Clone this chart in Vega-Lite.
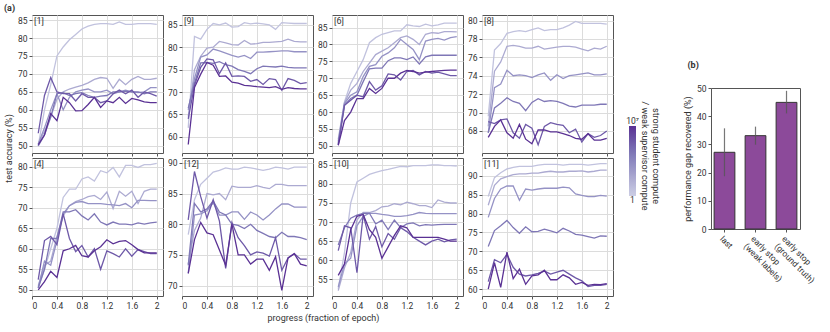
{
"$schema":"https://vega.github.io/schema/vega-lite/v6.json",
"padding":{"left":3,"top":3,"right":3,"bottom":3},
"title":{"text":"(a)","anchor":"start","fontSize":9,"fontWeight":"bold","offset":2,"frame":"bounds","dx":0},
"datasets":{
"p1":[
{"r":4,"x":0.1,"y":50},{"r":4,"x":0.2,"y":60},{"r":4,"x":0.3,"y":67},{"r":4,"x":0.4,"y":75},{"r":4,"x":0.5,"y":77.5},{"r":4,"x":0.6,"y":79.5},{"r":4,"x":0.7,"y":81},{"r":4,"x":0.8,"y":82.5},{"r":4,"x":0.9,"y":83.3},{"r":4,"x":1,"y":83.8},{"r":4,"x":1.1,"y":84},{"r":4,"x":1.2,"y":84},{"r":4,"x":1.3,"y":83.8},{"r":4,"x":1.4,"y":84.5},{"r":4,"x":1.5,"y":83.8},{"r":4,"x":1.6,"y":83.8},{"r":4,"x":1.7,"y":84},{"r":4,"x":1.8,"y":84},{"r":4,"x":1.9,"y":84},{"r":4,"x":2,"y":83.8},
{"r":60,"x":0.1,"y":50.5},{"r":60,"x":0.2,"y":54},{"r":60,"x":0.3,"y":58},{"r":60,"x":0.4,"y":63},{"r":60,"x":0.5,"y":65},{"r":60,"x":0.6,"y":65.8},{"r":60,"x":0.7,"y":66.3},{"r":60,"x":0.8,"y":66.8},{"r":60,"x":0.9,"y":67.5},{"r":60,"x":1,"y":68.5},{"r":60,"x":1.1,"y":69},{"r":60,"x":1.2,"y":68.8},{"r":60,"x":1.3,"y":66},{"r":60,"x":1.4,"y":68.5},{"r":60,"x":1.5,"y":67},{"r":60,"x":1.6,"y":68.5},{"r":60,"x":1.7,"y":69.3},{"r":60,"x":1.8,"y":68.5},{"r":60,"x":1.9,"y":68.5},{"r":60,"x":2,"y":68.8},
{"r":1000,"x":0.1,"y":50.5},{"r":1000,"x":0.2,"y":55},{"r":1000,"x":0.3,"y":60},{"r":1000,"x":0.4,"y":64.5},{"r":1000,"x":0.5,"y":60},{"r":1000,"x":0.6,"y":63.5},{"r":1000,"x":0.7,"y":65},{"r":1000,"x":0.8,"y":65.5},{"r":1000,"x":0.9,"y":65.8},{"r":1000,"x":1,"y":65},{"r":1000,"x":1.1,"y":65},{"r":1000,"x":1.2,"y":65.5},{"r":1000,"x":1.3,"y":64.5},{"r":1000,"x":1.4,"y":65},{"r":1000,"x":1.5,"y":65.5},{"r":1000,"x":1.6,"y":65},{"r":1000,"x":1.7,"y":64.8},{"r":1000,"x":1.8,"y":65},{"r":1000,"x":1.9,"y":66.2},{"r":1000,"x":2,"y":66.2},
{"r":20000,"x":0.1,"y":50},{"r":20000,"x":0.2,"y":53},{"r":20000,"x":0.3,"y":58},{"r":20000,"x":0.4,"y":64.5},{"r":20000,"x":0.5,"y":64.8},{"r":20000,"x":0.6,"y":64},{"r":20000,"x":0.7,"y":64.5},{"r":20000,"x":0.8,"y":64.8},{"r":20000,"x":0.9,"y":64},{"r":20000,"x":1,"y":63.5},{"r":20000,"x":1.1,"y":63.8},{"r":20000,"x":1.2,"y":64},{"r":20000,"x":1.3,"y":65},{"r":20000,"x":1.4,"y":65},{"r":20000,"x":1.5,"y":65.2},{"r":20000,"x":1.6,"y":65},{"r":20000,"x":1.7,"y":65},{"r":20000,"x":1.8,"y":64.5},{"r":20000,"x":1.9,"y":65},{"r":20000,"x":2,"y":65},
{"r":300000,"x":0.1,"y":53.5},{"r":300000,"x":0.2,"y":64},{"r":300000,"x":0.3,"y":69},{"r":300000,"x":0.4,"y":65},{"r":300000,"x":0.5,"y":64.5},{"r":300000,"x":0.6,"y":64.5},{"r":300000,"x":0.7,"y":62.5},{"r":300000,"x":0.8,"y":64.5},{"r":300000,"x":0.9,"y":63.5},{"r":300000,"x":1,"y":63.5},{"r":300000,"x":1.1,"y":62},{"r":300000,"x":1.2,"y":62.5},{"r":300000,"x":1.3,"y":64.5},{"r":300000,"x":1.4,"y":65.5},{"r":300000,"x":1.5,"y":64.5},{"r":300000,"x":1.6,"y":65.5},{"r":300000,"x":1.7,"y":63.5},{"r":300000,"x":1.8,"y":65},{"r":300000,"x":1.9,"y":64.5},{"r":300000,"x":2,"y":63.8},
{"r":10000000,"x":0.1,"y":50.3},{"r":10000000,"x":0.2,"y":53},{"r":10000000,"x":0.3,"y":59},{"r":10000000,"x":0.4,"y":57},{"r":10000000,"x":0.5,"y":63.5},{"r":10000000,"x":0.6,"y":62},{"r":10000000,"x":0.7,"y":59.7},{"r":10000000,"x":0.8,"y":59.8},{"r":10000000,"x":0.9,"y":61.5},{"r":10000000,"x":1,"y":63.5},{"r":10000000,"x":1.1,"y":60.7},{"r":10000000,"x":1.2,"y":62.5},{"r":10000000,"x":1.3,"y":62},{"r":10000000,"x":1.4,"y":63.5},{"r":10000000,"x":1.5,"y":61.8},{"r":10000000,"x":1.6,"y":63.2},{"r":10000000,"x":1.7,"y":62.8},{"r":10000000,"x":1.8,"y":62.2},{"r":10000000,"x":1.9,"y":62},{"r":10000000,"x":2,"y":62}
],
"p9":[
{"r":4,"x":0.1,"y":62},{"r":4,"x":0.2,"y":82.4},{"r":4,"x":0.3,"y":81.8},{"r":4,"x":0.4,"y":84},{"r":4,"x":0.5,"y":85.3},{"r":4,"x":0.6,"y":85},{"r":4,"x":0.7,"y":85.4},{"r":4,"x":0.8,"y":84.5},{"r":4,"x":0.9,"y":84.6},{"r":4,"x":1,"y":85.5},{"r":4,"x":1.1,"y":85.2},{"r":4,"x":1.2,"y":85.4},{"r":4,"x":1.3,"y":85.2},{"r":4,"x":1.4,"y":85},{"r":4,"x":1.5,"y":84},{"r":4,"x":1.6,"y":85.5},{"r":4,"x":1.7,"y":85.4},{"r":4,"x":1.8,"y":85.3},{"r":4,"x":1.9,"y":85.3},{"r":4,"x":2,"y":85.3},
{"r":60,"x":0.1,"y":64.5},{"r":60,"x":0.2,"y":75},{"r":60,"x":0.3,"y":78},{"r":60,"x":0.4,"y":79.8},{"r":60,"x":0.5,"y":80},{"r":60,"x":0.6,"y":81.3},{"r":60,"x":0.7,"y":81},{"r":60,"x":0.8,"y":80.6},{"r":60,"x":0.9,"y":80.5},{"r":60,"x":1,"y":81.5},{"r":60,"x":1.1,"y":80.7},{"r":60,"x":1.2,"y":80.8},{"r":60,"x":1.3,"y":81.1},{"r":60,"x":1.4,"y":81.1},{"r":60,"x":1.5,"y":81.2},{"r":60,"x":1.6,"y":81.3},{"r":60,"x":1.7,"y":81.8},{"r":60,"x":1.8,"y":81.3},{"r":60,"x":1.9,"y":81.2},{"r":60,"x":2,"y":81.2},
{"r":1000,"x":0.1,"y":66},{"r":1000,"x":0.2,"y":73},{"r":1000,"x":0.3,"y":77.8},{"r":1000,"x":0.4,"y":78.3},{"r":1000,"x":0.5,"y":79.6},{"r":1000,"x":0.6,"y":79.2},{"r":1000,"x":0.7,"y":78.7},{"r":1000,"x":0.8,"y":78.2},{"r":1000,"x":0.9,"y":77.8},{"r":1000,"x":1,"y":78.2},{"r":1000,"x":1.1,"y":77.5},{"r":1000,"x":1.2,"y":78.9},{"r":1000,"x":1.3,"y":78.9},{"r":1000,"x":1.4,"y":79},{"r":1000,"x":1.5,"y":79.1},{"r":1000,"x":1.6,"y":79.2},{"r":1000,"x":1.7,"y":79.2},{"r":1000,"x":1.8,"y":79},{"r":1000,"x":1.9,"y":79},{"r":1000,"x":2,"y":79},
{"r":20000,"x":0.1,"y":66.4},{"r":20000,"x":0.2,"y":72},{"r":20000,"x":0.3,"y":76.5},{"r":20000,"x":0.4,"y":76.6},{"r":20000,"x":0.5,"y":76.4},{"r":20000,"x":0.6,"y":76.8},{"r":20000,"x":0.7,"y":76.1},{"r":20000,"x":0.8,"y":75.8},{"r":20000,"x":0.9,"y":75},{"r":20000,"x":1,"y":74.6},{"r":20000,"x":1.1,"y":74.1},{"r":20000,"x":1.2,"y":75.2},{"r":20000,"x":1.3,"y":75.8},{"r":20000,"x":1.4,"y":75.7},{"r":20000,"x":1.5,"y":75.6},{"r":20000,"x":1.6,"y":75.8},{"r":20000,"x":1.7,"y":75.5},{"r":20000,"x":1.8,"y":75.4},{"r":20000,"x":1.9,"y":75.4},{"r":20000,"x":2,"y":75.4},
{"r":300000,"x":0.1,"y":64},{"r":300000,"x":0.2,"y":71.5},{"r":300000,"x":0.3,"y":75.5},{"r":300000,"x":0.4,"y":77.4},{"r":300000,"x":0.5,"y":77.2},{"r":300000,"x":0.6,"y":74.1},{"r":300000,"x":0.7,"y":76.5},{"r":300000,"x":0.8,"y":73.5},{"r":300000,"x":0.9,"y":73.6},{"r":300000,"x":1,"y":73.5},{"r":300000,"x":1.1,"y":72.4},{"r":300000,"x":1.2,"y":72.8},{"r":300000,"x":1.3,"y":71.7},{"r":300000,"x":1.4,"y":73},{"r":300000,"x":1.5,"y":72.8},{"r":300000,"x":1.6,"y":70.4},{"r":300000,"x":1.7,"y":73},{"r":300000,"x":1.8,"y":72.6},{"r":300000,"x":1.9,"y":71.9},{"r":300000,"x":2,"y":72.1},
{"r":10000000,"x":0.1,"y":58.3},{"r":10000000,"x":0.2,"y":71},{"r":10000000,"x":0.3,"y":74},{"r":10000000,"x":0.4,"y":76.6},{"r":10000000,"x":0.5,"y":76},{"r":10000000,"x":0.6,"y":73.5},{"r":10000000,"x":0.7,"y":73.6},{"r":10000000,"x":0.8,"y":72.2},{"r":10000000,"x":0.9,"y":72},{"r":10000000,"x":1,"y":71.5},{"r":10000000,"x":1.1,"y":71.4},{"r":10000000,"x":1.2,"y":71.2},{"r":10000000,"x":1.3,"y":71.1},{"r":10000000,"x":1.4,"y":71},{"r":10000000,"x":1.5,"y":71.2},{"r":10000000,"x":1.6,"y":70.6},{"r":10000000,"x":1.7,"y":71},{"r":10000000,"x":1.8,"y":70.8},{"r":10000000,"x":1.9,"y":70.7},{"r":10000000,"x":2,"y":70.7}
],
"p6":[
{"r":4,"x":0.1,"y":52},{"r":4,"x":0.2,"y":63},{"r":4,"x":0.3,"y":68.5},{"r":4,"x":0.4,"y":72},{"r":4,"x":0.5,"y":75.5},{"r":4,"x":0.6,"y":80.5},{"r":4,"x":0.7,"y":82},{"r":4,"x":0.8,"y":83},{"r":4,"x":0.9,"y":83.5},{"r":4,"x":1,"y":84},{"r":4,"x":1.1,"y":84},{"r":4,"x":1.2,"y":85.8},{"r":4,"x":1.3,"y":85.5},{"r":4,"x":1.4,"y":85.3},{"r":4,"x":1.5,"y":86},{"r":4,"x":1.6,"y":85.5},{"r":4,"x":1.7,"y":85.8},{"r":4,"x":1.8,"y":86.3},{"r":4,"x":1.9,"y":86.3},{"r":4,"x":2,"y":86.3},
{"r":60,"x":0.1,"y":51.5},{"r":60,"x":0.2,"y":62.8},{"r":60,"x":0.3,"y":66.5},{"r":60,"x":0.4,"y":68.5},{"r":60,"x":0.5,"y":72},{"r":60,"x":0.6,"y":74.5},{"r":60,"x":0.7,"y":77},{"r":60,"x":0.8,"y":78},{"r":60,"x":0.9,"y":79},{"r":60,"x":1,"y":80.5},{"r":60,"x":1.1,"y":82},{"r":60,"x":1.2,"y":82.5},{"r":60,"x":1.3,"y":81.5},{"r":60,"x":1.4,"y":80},{"r":60,"x":1.5,"y":83},{"r":60,"x":1.6,"y":83.5},{"r":60,"x":1.7,"y":83.3},{"r":60,"x":1.8,"y":83.8},{"r":60,"x":1.9,"y":83.8},{"r":60,"x":2,"y":83.7},
{"r":1000,"x":0.1,"y":51},{"r":1000,"x":0.2,"y":62.5},{"r":1000,"x":0.3,"y":65},{"r":1000,"x":0.4,"y":66},{"r":1000,"x":0.5,"y":70.5},{"r":1000,"x":0.6,"y":73.5},{"r":1000,"x":0.7,"y":74},{"r":1000,"x":0.8,"y":76.5},{"r":1000,"x":0.9,"y":77.5},{"r":1000,"x":1,"y":79},{"r":1000,"x":1.1,"y":81.5},{"r":1000,"x":1.2,"y":80},{"r":1000,"x":1.3,"y":78.5},{"r":1000,"x":1.4,"y":75.5},{"r":1000,"x":1.5,"y":81},{"r":1000,"x":1.6,"y":81.5},{"r":1000,"x":1.7,"y":81.8},{"r":1000,"x":1.8,"y":81.3},{"r":1000,"x":1.9,"y":82},{"r":1000,"x":2,"y":82.3},
{"r":20000,"x":0.1,"y":50.5},{"r":20000,"x":0.2,"y":62},{"r":20000,"x":0.3,"y":64},{"r":20000,"x":0.4,"y":65},{"r":20000,"x":0.5,"y":69},{"r":20000,"x":0.6,"y":72.8},{"r":20000,"x":0.7,"y":73},{"r":20000,"x":0.8,"y":73},{"r":20000,"x":0.9,"y":75.2},{"r":20000,"x":1,"y":76},{"r":20000,"x":1.1,"y":76},{"r":20000,"x":1.2,"y":75.5},{"r":20000,"x":1.3,"y":76.3},{"r":20000,"x":1.4,"y":74.2},{"r":20000,"x":1.5,"y":76.3},{"r":20000,"x":1.6,"y":76.8},{"r":20000,"x":1.7,"y":76.8},{"r":20000,"x":1.8,"y":76.8},{"r":20000,"x":1.9,"y":76.8},{"r":20000,"x":2,"y":76.8},
{"r":300000,"x":0.1,"y":50.2},{"r":300000,"x":0.2,"y":62},{"r":300000,"x":0.3,"y":63.5},{"r":300000,"x":0.4,"y":65},{"r":300000,"x":0.5,"y":64.5},{"r":300000,"x":0.6,"y":69},{"r":300000,"x":0.7,"y":66.5},{"r":300000,"x":0.8,"y":67.8},{"r":300000,"x":0.9,"y":71.3},{"r":300000,"x":1,"y":71},{"r":300000,"x":1.1,"y":69.5},{"r":300000,"x":1.2,"y":72},{"r":300000,"x":1.3,"y":72.3},{"r":300000,"x":1.4,"y":71},{"r":300000,"x":1.5,"y":72},{"r":300000,"x":1.6,"y":71.5},{"r":300000,"x":1.7,"y":71.8},{"r":300000,"x":1.8,"y":71.3},{"r":300000,"x":1.9,"y":70.8},{"r":300000,"x":2,"y":70.8},
{"r":10000000,"x":0.1,"y":50.2},{"r":10000000,"x":0.2,"y":57.5},{"r":10000000,"x":0.3,"y":60},{"r":10000000,"x":0.4,"y":64},{"r":10000000,"x":0.5,"y":64},{"r":10000000,"x":0.6,"y":67},{"r":10000000,"x":0.7,"y":65.5},{"r":10000000,"x":0.8,"y":67},{"r":10000000,"x":0.9,"y":70},{"r":10000000,"x":1,"y":70},{"r":10000000,"x":1.1,"y":71.5},{"r":10000000,"x":1.2,"y":72.3},{"r":10000000,"x":1.3,"y":72},{"r":10000000,"x":1.4,"y":71.5},{"r":10000000,"x":1.5,"y":71.8},{"r":10000000,"x":1.6,"y":72},{"r":10000000,"x":1.7,"y":72.2},{"r":10000000,"x":1.8,"y":72.3},{"r":10000000,"x":1.9,"y":72.4},{"r":10000000,"x":2,"y":72.4}
],
"p8":[
{"r":4,"x":0.1,"y":69.6},{"r":4,"x":0.2,"y":76.8},{"r":4,"x":0.3,"y":77.5},{"r":4,"x":0.4,"y":78.6},{"r":4,"x":0.5,"y":78.8},{"r":4,"x":0.6,"y":78.9},{"r":4,"x":0.7,"y":78.8},{"r":4,"x":0.8,"y":79},{"r":4,"x":0.9,"y":79.2},{"r":4,"x":1,"y":78.9},{"r":4,"x":1.1,"y":79},{"r":4,"x":1.2,"y":79},{"r":4,"x":1.3,"y":79.2},{"r":4,"x":1.4,"y":79.5},{"r":4,"x":1.5,"y":79.9},{"r":4,"x":1.6,"y":79.7},{"r":4,"x":1.7,"y":79.7},{"r":4,"x":1.8,"y":79.7},{"r":4,"x":1.9,"y":79.7},{"r":4,"x":2,"y":79.6},
{"r":60,"x":0.1,"y":68.5},{"r":60,"x":0.2,"y":74.5},{"r":60,"x":0.3,"y":75.5},{"r":60,"x":0.4,"y":77.2},{"r":60,"x":0.5,"y":77.3},{"r":60,"x":0.6,"y":77.2},{"r":60,"x":0.7,"y":77},{"r":60,"x":0.8,"y":77},{"r":60,"x":0.9,"y":77.2},{"r":60,"x":1,"y":76.9},{"r":60,"x":1.1,"y":77},{"r":60,"x":1.2,"y":77.1},{"r":60,"x":1.3,"y":77.2},{"r":60,"x":1.4,"y":77.2},{"r":60,"x":1.5,"y":77.1},{"r":60,"x":1.6,"y":76.9},{"r":60,"x":1.7,"y":76.7},{"r":60,"x":1.8,"y":77},{"r":60,"x":1.9,"y":76.9},{"r":60,"x":2,"y":77.2},
{"r":1000,"x":0.1,"y":67.8},{"r":1000,"x":0.2,"y":72.7},{"r":1000,"x":0.3,"y":73.1},{"r":1000,"x":0.4,"y":74.6},{"r":1000,"x":0.5,"y":74},{"r":1000,"x":0.6,"y":74.1},{"r":1000,"x":0.7,"y":74},{"r":1000,"x":0.8,"y":73.8},{"r":1000,"x":0.9,"y":74.1},{"r":1000,"x":1,"y":74.3},{"r":1000,"x":1.1,"y":73.5},{"r":1000,"x":1.2,"y":74.1},{"r":1000,"x":1.3,"y":73.7},{"r":1000,"x":1.4,"y":74},{"r":1000,"x":1.5,"y":74.1},{"r":1000,"x":1.6,"y":74.2},{"r":1000,"x":1.7,"y":74.3},{"r":1000,"x":1.8,"y":74.1},{"r":1000,"x":1.9,"y":74.1},{"r":1000,"x":2,"y":74.2},
{"r":20000,"x":0.1,"y":67.8},{"r":20000,"x":0.2,"y":70.5},{"r":20000,"x":0.3,"y":71},{"r":20000,"x":0.4,"y":71.6},{"r":20000,"x":0.5,"y":71.2},{"r":20000,"x":0.6,"y":71},{"r":20000,"x":0.7,"y":70.2},{"r":20000,"x":0.8,"y":71.1},{"r":20000,"x":0.9,"y":71.5},{"r":20000,"x":1,"y":71.2},{"r":20000,"x":1.1,"y":71.3},{"r":20000,"x":1.2,"y":71.2},{"r":20000,"x":1.3,"y":71},{"r":20000,"x":1.4,"y":70.7},{"r":20000,"x":1.5,"y":70.6},{"r":20000,"x":1.6,"y":70.8},{"r":20000,"x":1.7,"y":70.8},{"r":20000,"x":1.8,"y":70.8},{"r":20000,"x":1.9,"y":70.9},{"r":20000,"x":2,"y":70.9},
{"r":300000,"x":0.1,"y":69},{"r":300000,"x":0.2,"y":68.8},{"r":300000,"x":0.3,"y":69.2},{"r":300000,"x":0.4,"y":69.3},{"r":300000,"x":0.5,"y":67.8},{"r":300000,"x":0.6,"y":67.2},{"r":300000,"x":0.7,"y":68.7},{"r":300000,"x":0.8,"y":68.3},{"r":300000,"x":0.9,"y":66.5},{"r":300000,"x":1,"y":68.5},{"r":300000,"x":1.1,"y":68.9},{"r":300000,"x":1.2,"y":68.7},{"r":300000,"x":1.3,"y":68.6},{"r":300000,"x":1.4,"y":67.8},{"r":300000,"x":1.5,"y":68.2},{"r":300000,"x":1.6,"y":66.8},{"r":300000,"x":1.7,"y":67.7},{"r":300000,"x":1.8,"y":67.3},{"r":300000,"x":1.9,"y":67.5},{"r":300000,"x":2,"y":68},
{"r":10000000,"x":0.1,"y":67.3},{"r":10000000,"x":0.2,"y":68.5},{"r":10000000,"x":0.3,"y":69.2},{"r":10000000,"x":0.4,"y":67.8},{"r":10000000,"x":0.5,"y":67.2},{"r":10000000,"x":0.6,"y":68.7},{"r":10000000,"x":0.7,"y":67.1},{"r":10000000,"x":0.8,"y":66.6},{"r":10000000,"x":0.9,"y":68.1},{"r":10000000,"x":1,"y":68.1},{"r":10000000,"x":1.1,"y":67.9},{"r":10000000,"x":1.2,"y":67.9},{"r":10000000,"x":1.3,"y":67.7},{"r":10000000,"x":1.4,"y":67.5},{"r":10000000,"x":1.5,"y":67.2},{"r":10000000,"x":1.6,"y":67.1},{"r":10000000,"x":1.7,"y":67.7},{"r":10000000,"x":1.8,"y":67},{"r":10000000,"x":1.9,"y":67},{"r":10000000,"x":2,"y":67.2}
],
"p4":[
{"r":4,"x":0.1,"y":50.5},{"r":4,"x":0.2,"y":55},{"r":4,"x":0.3,"y":60},{"r":4,"x":0.4,"y":65},{"r":4,"x":0.5,"y":72.5},{"r":4,"x":0.6,"y":74.5},{"r":4,"x":0.7,"y":74.5},{"r":4,"x":0.8,"y":77},{"r":4,"x":0.9,"y":77.5},{"r":4,"x":1,"y":76.5},{"r":4,"x":1.1,"y":79},{"r":4,"x":1.2,"y":78.5},{"r":4,"x":1.3,"y":79.8},{"r":4,"x":1.4,"y":77.5},{"r":4,"x":1.5,"y":80.3},{"r":4,"x":1.6,"y":80.3},{"r":4,"x":1.7,"y":79.8},{"r":4,"x":1.8,"y":80.5},{"r":4,"x":1.9,"y":80.5},{"r":4,"x":2,"y":80.8},
{"r":60,"x":0.1,"y":51},{"r":60,"x":0.2,"y":56},{"r":60,"x":0.3,"y":57},{"r":60,"x":0.4,"y":63},{"r":60,"x":0.5,"y":68},{"r":60,"x":0.6,"y":70.5},{"r":60,"x":0.7,"y":71.5},{"r":60,"x":0.8,"y":72},{"r":60,"x":0.9,"y":72.7},{"r":60,"x":1,"y":73},{"r":60,"x":1.1,"y":72},{"r":60,"x":1.2,"y":73.8},{"r":60,"x":1.3,"y":69.8},{"r":60,"x":1.4,"y":74},{"r":60,"x":1.5,"y":72.8},{"r":60,"x":1.6,"y":74},{"r":60,"x":1.7,"y":71},{"r":60,"x":1.8,"y":74},{"r":60,"x":1.9,"y":74.5},{"r":60,"x":2,"y":74.5},
{"r":1000,"x":0.1,"y":50.5},{"r":1000,"x":0.2,"y":57},{"r":1000,"x":0.3,"y":56},{"r":1000,"x":0.4,"y":62},{"r":1000,"x":0.5,"y":68.5},{"r":1000,"x":0.6,"y":70.5},{"r":1000,"x":0.7,"y":71.3},{"r":1000,"x":0.8,"y":71.5},{"r":1000,"x":0.9,"y":71},{"r":1000,"x":1,"y":71},{"r":1000,"x":1.1,"y":71},{"r":1000,"x":1.2,"y":70.8},{"r":1000,"x":1.3,"y":70.7},{"r":1000,"x":1.4,"y":70.5},{"r":1000,"x":1.5,"y":71},{"r":1000,"x":1.6,"y":70},{"r":1000,"x":1.7,"y":71.8},{"r":1000,"x":1.8,"y":71.8},{"r":1000,"x":1.9,"y":71.7},{"r":1000,"x":2,"y":71.7},
{"r":20000,"x":0.1,"y":50.5},{"r":20000,"x":0.2,"y":55},{"r":20000,"x":0.3,"y":62.5},{"r":20000,"x":0.4,"y":62.5},{"r":20000,"x":0.5,"y":69},{"r":20000,"x":0.6,"y":69},{"r":20000,"x":0.7,"y":69.5},{"r":20000,"x":0.8,"y":68},{"r":20000,"x":0.9,"y":67},{"r":20000,"x":1,"y":68.5},{"r":20000,"x":1.1,"y":66.5},{"r":20000,"x":1.2,"y":65.8},{"r":20000,"x":1.3,"y":66.5},{"r":20000,"x":1.4,"y":66},{"r":20000,"x":1.5,"y":66},{"r":20000,"x":1.6,"y":65.8},{"r":20000,"x":1.7,"y":66.3},{"r":20000,"x":1.8,"y":66},{"r":20000,"x":1.9,"y":66.3},{"r":20000,"x":2,"y":66.5},
{"r":300000,"x":0.1,"y":52.5},{"r":300000,"x":0.2,"y":62},{"r":300000,"x":0.3,"y":63},{"r":300000,"x":0.4,"y":61},{"r":300000,"x":0.5,"y":68.5},{"r":300000,"x":0.6,"y":62.5},{"r":300000,"x":0.7,"y":59.3},{"r":300000,"x":0.8,"y":60.8},{"r":300000,"x":0.9,"y":58},{"r":300000,"x":1,"y":60},{"r":300000,"x":1.1,"y":55},{"r":300000,"x":1.2,"y":59.5},{"r":300000,"x":1.3,"y":58.8},{"r":300000,"x":1.4,"y":58},{"r":300000,"x":1.5,"y":60},{"r":300000,"x":1.6,"y":58.2},{"r":300000,"x":1.7,"y":59.8},{"r":300000,"x":1.8,"y":59.3},{"r":300000,"x":1.9,"y":58.8},{"r":300000,"x":2,"y":58.8},
{"r":10000000,"x":0.1,"y":50},{"r":10000000,"x":0.2,"y":52},{"r":10000000,"x":0.3,"y":54.5},{"r":10000000,"x":0.4,"y":53},{"r":10000000,"x":0.5,"y":59.5},{"r":10000000,"x":0.6,"y":60},{"r":10000000,"x":0.7,"y":60.8},{"r":10000000,"x":0.8,"y":58.3},{"r":10000000,"x":0.9,"y":58},{"r":10000000,"x":1,"y":59.5},{"r":10000000,"x":1.1,"y":60.5},{"r":10000000,"x":1.2,"y":62.2},{"r":10000000,"x":1.3,"y":61.2},{"r":10000000,"x":1.4,"y":61.8},{"r":10000000,"x":1.5,"y":62},{"r":10000000,"x":1.6,"y":61},{"r":10000000,"x":1.7,"y":59.8},{"r":10000000,"x":1.8,"y":59},{"r":10000000,"x":1.9,"y":59},{"r":10000000,"x":2,"y":59}
],
"p12":[
{"r":4,"x":0.1,"y":78.3},{"r":4,"x":0.2,"y":84},{"r":4,"x":0.3,"y":86.5},{"r":4,"x":0.4,"y":87.5},{"r":4,"x":0.5,"y":88.5},{"r":4,"x":0.6,"y":88.8},{"r":4,"x":0.7,"y":89.2},{"r":4,"x":0.8,"y":89},{"r":4,"x":0.9,"y":89},{"r":4,"x":1,"y":89.3},{"r":4,"x":1.1,"y":89.2},{"r":4,"x":1.2,"y":89},{"r":4,"x":1.3,"y":88.8},{"r":4,"x":1.4,"y":89},{"r":4,"x":1.5,"y":89.3},{"r":4,"x":1.6,"y":89.2},{"r":4,"x":1.7,"y":89},{"r":4,"x":1.8,"y":89.3},{"r":4,"x":1.9,"y":89.3},{"r":4,"x":2,"y":89.3},
{"r":60,"x":0.1,"y":73.5},{"r":60,"x":0.2,"y":79},{"r":60,"x":0.3,"y":81},{"r":60,"x":0.4,"y":85},{"r":60,"x":0.5,"y":84.8},{"r":60,"x":0.6,"y":85},{"r":60,"x":0.7,"y":84},{"r":60,"x":0.8,"y":86.2},{"r":60,"x":0.9,"y":86},{"r":60,"x":1,"y":86},{"r":60,"x":1.1,"y":86},{"r":60,"x":1.2,"y":86.3},{"r":60,"x":1.3,"y":86},{"r":60,"x":1.4,"y":85.8},{"r":60,"x":1.5,"y":86.5},{"r":60,"x":1.6,"y":86.5},{"r":60,"x":1.7,"y":86.3},{"r":60,"x":1.8,"y":86.3},{"r":60,"x":1.9,"y":86.3},{"r":60,"x":2,"y":86.3},
{"r":1000,"x":0.1,"y":72},{"r":1000,"x":0.2,"y":81.5},{"r":1000,"x":0.3,"y":81.7},{"r":1000,"x":0.4,"y":82.2},{"r":1000,"x":0.5,"y":83.5},{"r":1000,"x":0.6,"y":81.5},{"r":1000,"x":0.7,"y":81.5},{"r":1000,"x":0.8,"y":82},{"r":1000,"x":0.9,"y":82},{"r":1000,"x":1,"y":80.8},{"r":1000,"x":1.1,"y":82},{"r":1000,"x":1.2,"y":81.5},{"r":1000,"x":1.3,"y":80.7},{"r":1000,"x":1.4,"y":81.5},{"r":1000,"x":1.5,"y":82.5},{"r":1000,"x":1.6,"y":83.3},{"r":1000,"x":1.7,"y":83.3},{"r":1000,"x":1.8,"y":82.8},{"r":1000,"x":1.9,"y":82.8},{"r":1000,"x":2,"y":82.8},
{"r":20000,"x":0.1,"y":73.3},{"r":20000,"x":0.2,"y":83.4},{"r":20000,"x":0.3,"y":82},{"r":20000,"x":0.4,"y":82.5},{"r":20000,"x":0.5,"y":83.8},{"r":20000,"x":0.6,"y":82},{"r":20000,"x":0.7,"y":81.5},{"r":20000,"x":0.8,"y":80},{"r":20000,"x":0.9,"y":79.8},{"r":20000,"x":1,"y":79.3},{"r":20000,"x":1.1,"y":80},{"r":20000,"x":1.2,"y":79},{"r":20000,"x":1.3,"y":78.5},{"r":20000,"x":1.4,"y":78},{"r":20000,"x":1.5,"y":77.8},{"r":20000,"x":1.6,"y":78.7},{"r":20000,"x":1.7,"y":78},{"r":20000,"x":1.8,"y":78},{"r":20000,"x":1.9,"y":77.8},{"r":20000,"x":2,"y":77.5},
{"r":300000,"x":0.1,"y":80.7},{"r":300000,"x":0.2,"y":88.6},{"r":300000,"x":0.3,"y":84.5},{"r":300000,"x":0.4,"y":81},{"r":300000,"x":0.5,"y":84},{"r":300000,"x":0.6,"y":80.5},{"r":300000,"x":0.7,"y":72.8},{"r":300000,"x":0.8,"y":80.3},{"r":300000,"x":0.9,"y":77.8},{"r":300000,"x":1,"y":76.5},{"r":300000,"x":1.1,"y":75},{"r":300000,"x":1.2,"y":75.5},{"r":300000,"x":1.3,"y":75.3},{"r":300000,"x":1.4,"y":74.8},{"r":300000,"x":1.5,"y":77.8},{"r":300000,"x":1.6,"y":72.5},{"r":300000,"x":1.7,"y":74.5},{"r":300000,"x":1.8,"y":75.2},{"r":300000,"x":1.9,"y":74.3},{"r":300000,"x":2,"y":74.3},
{"r":10000000,"x":0.1,"y":72},{"r":10000000,"x":0.2,"y":77.5},{"r":10000000,"x":0.3,"y":80.3},{"r":10000000,"x":0.4,"y":78.6},{"r":10000000,"x":0.5,"y":78.3},{"r":10000000,"x":0.6,"y":75.8},{"r":10000000,"x":0.7,"y":73.3},{"r":10000000,"x":0.8,"y":80},{"r":10000000,"x":0.9,"y":75},{"r":10000000,"x":1,"y":75},{"r":10000000,"x":1.1,"y":73.5},{"r":10000000,"x":1.2,"y":74.3},{"r":10000000,"x":1.3,"y":74.3},{"r":10000000,"x":1.4,"y":72.5},{"r":10000000,"x":1.5,"y":74.7},{"r":10000000,"x":1.6,"y":69.2},{"r":10000000,"x":1.7,"y":74.5},{"r":10000000,"x":1.8,"y":75.2},{"r":10000000,"x":1.9,"y":73.5},{"r":10000000,"x":2,"y":73.2}
],
"p10":[
{"r":4,"x":0.1,"y":52.5},{"r":4,"x":0.2,"y":62},{"r":4,"x":0.3,"y":75},{"r":4,"x":0.4,"y":80.5},{"r":4,"x":0.5,"y":81.5},{"r":4,"x":0.6,"y":82.5},{"r":4,"x":0.7,"y":83},{"r":4,"x":0.8,"y":83.5},{"r":4,"x":0.9,"y":83.8},{"r":4,"x":1,"y":84.2},{"r":4,"x":1.1,"y":84.6},{"r":4,"x":1.2,"y":84.5},{"r":4,"x":1.3,"y":84.8},{"r":4,"x":1.4,"y":84.8},{"r":4,"x":1.5,"y":84.8},{"r":4,"x":1.6,"y":85},{"r":4,"x":1.7,"y":85},{"r":4,"x":1.8,"y":84.8},{"r":4,"x":1.9,"y":84.8},{"r":4,"x":2,"y":84.7},
{"r":60,"x":0.1,"y":52},{"r":60,"x":0.2,"y":58},{"r":60,"x":0.3,"y":62},{"r":60,"x":0.4,"y":70.5},{"r":60,"x":0.5,"y":72.5},{"r":60,"x":0.6,"y":72.5},{"r":60,"x":0.7,"y":73},{"r":60,"x":0.8,"y":74},{"r":60,"x":0.9,"y":74.2},{"r":60,"x":1,"y":74.8},{"r":60,"x":1.1,"y":74.5},{"r":60,"x":1.2,"y":75.2},{"r":60,"x":1.3,"y":74.8},{"r":60,"x":1.4,"y":74.3},{"r":60,"x":1.5,"y":74.3},{"r":60,"x":1.6,"y":73.8},{"r":60,"x":1.7,"y":75.8},{"r":60,"x":1.8,"y":75.2},{"r":60,"x":1.9,"y":75},{"r":60,"x":2,"y":75},
{"r":1000,"x":0.1,"y":53},{"r":1000,"x":0.2,"y":59},{"r":1000,"x":0.3,"y":60.5},{"r":1000,"x":0.4,"y":69},{"r":1000,"x":0.5,"y":71.5},{"r":1000,"x":0.6,"y":72.3},{"r":1000,"x":0.7,"y":72.3},{"r":1000,"x":0.8,"y":72},{"r":1000,"x":0.9,"y":71.8},{"r":1000,"x":1,"y":71.5},{"r":1000,"x":1.1,"y":71.5},{"r":1000,"x":1.2,"y":71.7},{"r":1000,"x":1.3,"y":72},{"r":1000,"x":1.4,"y":72.5},{"r":1000,"x":1.5,"y":72.3},{"r":1000,"x":1.6,"y":72.2},{"r":1000,"x":1.7,"y":72.2},{"r":1000,"x":1.8,"y":72.2},{"r":1000,"x":1.9,"y":72.2},{"r":1000,"x":2,"y":72.2},
{"r":20000,"x":0.1,"y":64},{"r":20000,"x":0.2,"y":68.5},{"r":20000,"x":0.3,"y":71},{"r":20000,"x":0.4,"y":71.8},{"r":20000,"x":0.5,"y":72.3},{"r":20000,"x":0.6,"y":72.3},{"r":20000,"x":0.7,"y":69.5},{"r":20000,"x":0.8,"y":70.5},{"r":20000,"x":0.9,"y":68},{"r":20000,"x":1,"y":70.5},{"r":20000,"x":1.1,"y":68.5},{"r":20000,"x":1.2,"y":69.5},{"r":20000,"x":1.3,"y":69.8},{"r":20000,"x":1.4,"y":69},{"r":20000,"x":1.5,"y":69.3},{"r":20000,"x":1.6,"y":69.2},{"r":20000,"x":1.7,"y":69.3},{"r":20000,"x":1.8,"y":69.4},{"r":20000,"x":1.9,"y":69.4},{"r":20000,"x":2,"y":69.4},
{"r":300000,"x":0.1,"y":62.5},{"r":300000,"x":0.2,"y":69},{"r":300000,"x":0.3,"y":68.5},{"r":300000,"x":0.4,"y":56.7},{"r":300000,"x":0.5,"y":71.9},{"r":300000,"x":0.6,"y":65.5},{"r":300000,"x":0.7,"y":68.8},{"r":300000,"x":0.8,"y":63.5},{"r":300000,"x":0.9,"y":67},{"r":300000,"x":1,"y":65.5},{"r":300000,"x":1.1,"y":68.5},{"r":300000,"x":1.2,"y":67.5},{"r":300000,"x":1.3,"y":66},{"r":300000,"x":1.4,"y":65},{"r":300000,"x":1.5,"y":64},{"r":300000,"x":1.6,"y":65},{"r":300000,"x":1.7,"y":65.5},{"r":300000,"x":1.8,"y":64.8},{"r":300000,"x":1.9,"y":65.3},{"r":300000,"x":2,"y":65.5},
{"r":10000000,"x":0.1,"y":56},{"r":10000000,"x":0.2,"y":59},{"r":10000000,"x":0.3,"y":68},{"r":10000000,"x":0.4,"y":71.5},{"r":10000000,"x":0.5,"y":72},{"r":10000000,"x":0.6,"y":68},{"r":10000000,"x":0.7,"y":66},{"r":10000000,"x":0.8,"y":60.5},{"r":10000000,"x":0.9,"y":63.5},{"r":10000000,"x":1,"y":66.5},{"r":10000000,"x":1.1,"y":69},{"r":10000000,"x":1.2,"y":68.5},{"r":10000000,"x":1.3,"y":66},{"r":10000000,"x":1.4,"y":66},{"r":10000000,"x":1.5,"y":66},{"r":10000000,"x":1.6,"y":66},{"r":10000000,"x":1.7,"y":66},{"r":10000000,"x":1.8,"y":65.5},{"r":10000000,"x":1.9,"y":65},{"r":10000000,"x":2,"y":65}
],
"p11":[
{"r":4,"x":0.1,"y":84.5},{"r":4,"x":0.2,"y":89.5},{"r":4,"x":0.3,"y":90.8},{"r":4,"x":0.4,"y":91.8},{"r":4,"x":0.5,"y":92.2},{"r":4,"x":0.6,"y":92.5},{"r":4,"x":0.7,"y":92.5},{"r":4,"x":0.8,"y":92.5},{"r":4,"x":0.9,"y":92.8},{"r":4,"x":1,"y":93},{"r":4,"x":1.1,"y":93},{"r":4,"x":1.2,"y":93},{"r":4,"x":1.3,"y":92.8},{"r":4,"x":1.4,"y":93},{"r":4,"x":1.5,"y":93},{"r":4,"x":1.6,"y":93},{"r":4,"x":1.7,"y":92.8},{"r":4,"x":1.8,"y":93},{"r":4,"x":1.9,"y":93.2},{"r":4,"x":2,"y":93.2},
{"r":60,"x":0.1,"y":82.2},{"r":60,"x":0.2,"y":87.5},{"r":60,"x":0.3,"y":89.2},{"r":60,"x":0.4,"y":89.8},{"r":60,"x":0.5,"y":90.3},{"r":60,"x":0.6,"y":90.5},{"r":60,"x":0.7,"y":90.5},{"r":60,"x":0.8,"y":90.7},{"r":60,"x":0.9,"y":90.7},{"r":60,"x":1,"y":91},{"r":60,"x":1.1,"y":91.2},{"r":60,"x":1.2,"y":91},{"r":60,"x":1.3,"y":91},{"r":60,"x":1.4,"y":91.2},{"r":60,"x":1.5,"y":91.2},{"r":60,"x":1.6,"y":91.3},{"r":60,"x":1.7,"y":91},{"r":60,"x":1.8,"y":91.2},{"r":60,"x":1.9,"y":91.5},{"r":60,"x":2,"y":91.5},
{"r":1000,"x":0.1,"y":79},{"r":1000,"x":0.2,"y":84},{"r":1000,"x":0.3,"y":86.5},{"r":1000,"x":0.4,"y":87.3},{"r":1000,"x":0.5,"y":87.3},{"r":1000,"x":0.6,"y":83.5},{"r":1000,"x":0.7,"y":86.5},{"r":1000,"x":0.8,"y":86.2},{"r":1000,"x":0.9,"y":86.5},{"r":1000,"x":1,"y":86.7},{"r":1000,"x":1.1,"y":86.7},{"r":1000,"x":1.2,"y":86.7},{"r":1000,"x":1.3,"y":87},{"r":1000,"x":1.4,"y":86.8},{"r":1000,"x":1.5,"y":85.2},{"r":1000,"x":1.6,"y":84.8},{"r":1000,"x":1.7,"y":84.5},{"r":1000,"x":1.8,"y":84.5},{"r":1000,"x":1.9,"y":84.8},{"r":1000,"x":2,"y":84.6},
{"r":20000,"x":0.1,"y":71.3},{"r":20000,"x":0.2,"y":75.5},{"r":20000,"x":0.3,"y":76.8},{"r":20000,"x":0.4,"y":78.2},{"r":20000,"x":0.5,"y":76.3},{"r":20000,"x":0.6,"y":74.8},{"r":20000,"x":0.7,"y":76.5},{"r":20000,"x":0.8,"y":75.2},{"r":20000,"x":0.9,"y":75.3},{"r":20000,"x":1,"y":75.9},{"r":20000,"x":1.1,"y":75.4},{"r":20000,"x":1.2,"y":74.9},{"r":20000,"x":1.3,"y":76.1},{"r":20000,"x":1.4,"y":75.4},{"r":20000,"x":1.5,"y":74.5},{"r":20000,"x":1.6,"y":74.3},{"r":20000,"x":1.7,"y":73.9},{"r":20000,"x":1.8,"y":73.5},{"r":20000,"x":1.9,"y":74.1},{"r":20000,"x":2,"y":74},
{"r":300000,"x":0.1,"y":62},{"r":300000,"x":0.2,"y":67.8},{"r":300000,"x":0.3,"y":67},{"r":300000,"x":0.4,"y":69.2},{"r":300000,"x":0.5,"y":65.8},{"r":300000,"x":0.6,"y":64},{"r":300000,"x":0.7,"y":63.5},{"r":300000,"x":0.8,"y":63.8},{"r":300000,"x":0.9,"y":64.2},{"r":300000,"x":1,"y":64.8},{"r":300000,"x":1.1,"y":64},{"r":300000,"x":1.2,"y":64.5},{"r":300000,"x":1.3,"y":65},{"r":300000,"x":1.4,"y":64},{"r":300000,"x":1.5,"y":63},{"r":300000,"x":1.6,"y":62.2},{"r":300000,"x":1.7,"y":60.7},{"r":300000,"x":1.8,"y":61},{"r":300000,"x":1.9,"y":61},{"r":300000,"x":2,"y":61.3},
{"r":10000000,"x":0.1,"y":60},{"r":10000000,"x":0.2,"y":67},{"r":10000000,"x":0.3,"y":60.5},{"r":10000000,"x":0.4,"y":69.8},{"r":10000000,"x":0.5,"y":62.8},{"r":10000000,"x":0.6,"y":65.3},{"r":10000000,"x":0.7,"y":61.3},{"r":10000000,"x":0.8,"y":63.5},{"r":10000000,"x":0.9,"y":63.8},{"r":10000000,"x":1,"y":65},{"r":10000000,"x":1.1,"y":62.5},{"r":10000000,"x":1.2,"y":62.5},{"r":10000000,"x":1.3,"y":63.8},{"r":10000000,"x":1.4,"y":63},{"r":10000000,"x":1.5,"y":61.3},{"r":10000000,"x":1.6,"y":61.8},{"r":10000000,"x":1.7,"y":61},{"r":10000000,"x":1.8,"y":61.3},{"r":10000000,"x":1.9,"y":61.2},{"r":10000000,"x":2,"y":61.5}
],
"gap":[
{"k":"last","v":27.2,"lo":18.7,"hi":35.7},
{"k":"early stop (weak labels)","v":33.1,"lo":29.9,"hi":36.3},
{"k":"early stop (ground truth)","v":44.9,"lo":41,"hi":49}
]
},
"hconcat":[
{
"columns":4,
"spacing":{"column":19,"row":5},
"bounds":"flush",
"resolve":{"scale":{"x":"independent","y":"independent","color":"shared"}},
"concat":[
{"width":131,"height":138,"data":{"name":"p1"},"title":{"text":"[1]"},"mark":{"type":"line","strokeWidth":1.3,"clip":true},
"encoding":{
"x":{"field":"x","type":"quantitative","scale":{"domain":[0,2.1],"nice":false},"axis":{"values":[0,0.4,0.8,1.2,1.6,2],"labels":false,"title":null}},
"y":{"field":"y","type":"quantitative","scale":{"domain":[48,86.4],"nice":false,"zero":false},"axis":{"values":[50,55,60,65,70,75,80,85],"title":"test accuracy (%)","titleY":133}},
"color":{"field":"r","type":"quantitative","scale":{"type":"log","domain":[1,10000000],"scheme":{"name":"purples","extent":[0.15,0.92]}},"legend":{"orient":"none","legendX":597,"legendY":111,"values":[1,10000000],"labelOffset":-3.5,"titlePadding":12,"labelExpr":"datum.value > 100 ? '10⁷' : '1'","title":["strong student compute","/ weak supervisor compute"],"encode":{"labels":{"update":{"align":{"value":"center"},"baseline":{"signal":"datum.value > 100 ? 'bottom' : 'top'"}}}}}},
"detail":{"field":"r","type":"nominal"}}},
{"width":131,"height":138,"data":{"name":"p9"},"title":{"text":"[9]"},"mark":{"type":"line","strokeWidth":1.3,"clip":true},
"encoding":{
"x":{"field":"x","type":"quantitative","scale":{"domain":[0,2.1],"nice":false},"axis":{"values":[0,0.4,0.8,1.2,1.6,2],"labels":false,"title":null}},
"y":{"field":"y","type":"quantitative","scale":{"domain":[56.4,87.2],"nice":false,"zero":false},"axis":{"values":[60,65,70,75,80,85],"title":null}},
"color":{"field":"r","type":"quantitative","scale":{"type":"log","domain":[1,10000000],"scheme":{"name":"purples","extent":[0.15,0.92]}},"legend":{"orient":"none","legendX":597,"legendY":111,"values":[1,10000000],"labelOffset":-3.5,"titlePadding":12,"labelExpr":"datum.value > 100 ? '10⁷' : '1'","title":["strong student compute","/ weak supervisor compute"],"encode":{"labels":{"update":{"align":{"value":"center"},"baseline":{"signal":"datum.value > 100 ? 'bottom' : 'top'"}}}}}},
"detail":{"field":"r","type":"nominal"}}},
{"width":131,"height":138,"data":{"name":"p6"},"title":{"text":"[6]"},"mark":{"type":"line","strokeWidth":1.3,"clip":true},
"encoding":{
"x":{"field":"x","type":"quantitative","scale":{"domain":[0,2.1],"nice":false},"axis":{"values":[0,0.4,0.8,1.2,1.6,2],"labels":false,"title":null}},
"y":{"field":"y","type":"quantitative","scale":{"domain":[47.9,88.7],"nice":false,"zero":false},"axis":{"values":[50,55,60,65,70,75,80,85],"title":null}},
"color":{"field":"r","type":"quantitative","scale":{"type":"log","domain":[1,10000000],"scheme":{"name":"purples","extent":[0.15,0.92]}},"legend":{"orient":"none","legendX":597,"legendY":111,"values":[1,10000000],"labelOffset":-3.5,"titlePadding":12,"labelExpr":"datum.value > 100 ? '10⁷' : '1'","title":["strong student compute","/ weak supervisor compute"],"encode":{"labels":{"update":{"align":{"value":"center"},"baseline":{"signal":"datum.value > 100 ? 'bottom' : 'top'"}}}}}},
"detail":{"field":"r","type":"nominal"}}},
{"width":131,"height":138,"data":{"name":"p8"},"title":{"text":"[8]"},"mark":{"type":"line","strokeWidth":1.3,"clip":true},
"encoding":{
"x":{"field":"x","type":"quantitative","scale":{"domain":[0,2.1],"nice":false},"axis":{"values":[0,0.4,0.8,1.2,1.6,2],"labels":false,"title":null}},
"y":{"field":"y","type":"quantitative","scale":{"domain":[65.6,80.6],"nice":false,"zero":false},"axis":{"values":[68,70,72,74,76,78,80],"title":null}},
"color":{"field":"r","type":"quantitative","scale":{"type":"log","domain":[1,10000000],"scheme":{"name":"purples","extent":[0.15,0.92]}},"legend":{"orient":"none","legendX":597,"legendY":111,"values":[1,10000000],"labelOffset":-3.5,"titlePadding":12,"labelExpr":"datum.value > 100 ? '10⁷' : '1'","title":["strong student compute","/ weak supervisor compute"],"encode":{"labels":{"update":{"align":{"value":"center"},"baseline":{"signal":"datum.value > 100 ? 'bottom' : 'top'"}}}}}},
"detail":{"field":"r","type":"nominal"}}},
{"width":131,"height":138,"data":{"name":"p4"},"title":{"text":"[4]"},"mark":{"type":"line","strokeWidth":1.3,"clip":true},
"encoding":{
"x":{"field":"x","type":"quantitative","scale":{"domain":[0,2.1],"nice":false},"axis":{"values":[0,0.4,0.8,1.2,1.6,2],"format":"~g","title":null}},
"y":{"field":"y","type":"quantitative","scale":{"domain":[48.5,82.1],"nice":false,"zero":false},"axis":{"values":[50,55,60,65,70,75,80],"title":null}},
"color":{"field":"r","type":"quantitative","scale":{"type":"log","domain":[1,10000000],"scheme":{"name":"purples","extent":[0.15,0.92]}},"legend":{"orient":"none","legendX":597,"legendY":111,"values":[1,10000000],"labelOffset":-3.5,"titlePadding":12,"labelExpr":"datum.value > 100 ? '10⁷' : '1'","title":["strong student compute","/ weak supervisor compute"],"encode":{"labels":{"update":{"align":{"value":"center"},"baseline":{"signal":"datum.value > 100 ? 'bottom' : 'top'"}}}}}},
"detail":{"field":"r","type":"nominal"}}},
{"width":131,"height":138,"data":{"name":"p12"},"title":{"text":"[12]"},"mark":{"type":"line","strokeWidth":1.3,"clip":true},
"encoding":{
"x":{"field":"x","type":"quantitative","scale":{"domain":[0,2.1],"nice":false},"axis":{"values":[0,0.4,0.8,1.2,1.6,2],"format":"~g","title":null}},
"y":{"field":"y","type":"quantitative","scale":{"domain":[68.3,90.8],"nice":false,"zero":false},"axis":{"values":[70,75,80,85,90],"title":null}},
"color":{"field":"r","type":"quantitative","scale":{"type":"log","domain":[1,10000000],"scheme":{"name":"purples","extent":[0.15,0.92]}},"legend":{"orient":"none","legendX":597,"legendY":111,"values":[1,10000000],"labelOffset":-3.5,"titlePadding":12,"labelExpr":"datum.value > 100 ? '10⁷' : '1'","title":["strong student compute","/ weak supervisor compute"],"encode":{"labels":{"update":{"align":{"value":"center"},"baseline":{"signal":"datum.value > 100 ? 'bottom' : 'top'"}}}}}},
"detail":{"field":"r","type":"nominal"}}},
{"width":131,"height":138,"data":{"name":"p10"},"title":{"text":"[10]"},"mark":{"type":"line","strokeWidth":1.3,"clip":true},
"encoding":{
"x":{"field":"x","type":"quantitative","scale":{"domain":[0,2.1],"nice":false},"axis":{"values":[0,0.4,0.8,1.2,1.6,2],"format":"~g","title":"progress (fraction of epoch)","titleX":-9}},
"y":{"field":"y","type":"quantitative","scale":{"domain":[50.6,86.8],"nice":false,"zero":false},"axis":{"values":[55,60,65,70,75,80,85],"title":null}},
"color":{"field":"r","type":"quantitative","scale":{"type":"log","domain":[1,10000000],"scheme":{"name":"purples","extent":[0.15,0.92]}},"legend":{"orient":"none","legendX":597,"legendY":111,"values":[1,10000000],"labelOffset":-3.5,"titlePadding":12,"labelExpr":"datum.value > 100 ? '10⁷' : '1'","title":["strong student compute","/ weak supervisor compute"],"encode":{"labels":{"update":{"align":{"value":"center"},"baseline":{"signal":"datum.value > 100 ? 'bottom' : 'top'"}}}}}},
"detail":{"field":"r","type":"nominal"}}},
{"width":131,"height":138,"data":{"name":"p11"},"title":{"text":"[11]"},"mark":{"type":"line","strokeWidth":1.3,"clip":true},
"encoding":{
"x":{"field":"x","type":"quantitative","scale":{"domain":[0,2.1],"nice":false},"axis":{"values":[0,0.4,0.8,1.2,1.6,2],"format":"~g","title":null}},
"y":{"field":"y","type":"quantitative","scale":{"domain":[58.2,94.7],"nice":false,"zero":false},"axis":{"values":[60,65,70,75,80,85,90],"title":null}},
"color":{"field":"r","type":"quantitative","scale":{"type":"log","domain":[1,10000000],"scheme":{"name":"purples","extent":[0.15,0.92]}},"legend":{"orient":"none","legendX":597,"legendY":111,"values":[1,10000000],"labelOffset":-3.5,"titlePadding":12,"labelExpr":"datum.value > 100 ? '10⁷' : '1'","title":["strong student compute","/ weak supervisor compute"],"encode":{"labels":{"update":{"align":{"value":"center"},"baseline":{"signal":"datum.value > 100 ? 'bottom' : 'top'"}}}}}},
"detail":{"field":"r","type":"nominal"}}}
]
},
{
"spacing":10,
"vconcat":[
{"width":89,"height":35,"data":{"values":[{}]},"view":{"stroke":null},"mark":{"type":"point","opacity":0},"encoding":{}},
{
"width":89,"height":141,
"data":{"name":"gap"},
"title":{"text":"(b)","anchor":"start","fontWeight":"bold","fontSize":9,"offset":14,"frame":"bounds","dx":4},
"layer":[
{"mark":{"type":"bar","color":"#8c4a9a","stroke":"#333","strokeWidth":1},
"encoding":{
"x":{"field":"k","type":"nominal","sort":null,"scale":{"paddingInner":0.33,"paddingOuter":0.1},"axis":{"title":null,"labelAngle":45,"ticks":true,"labelExpr":"indexof(datum.label,'(')>0 ? [substring(datum.label,0,indexof(datum.label,'(')-1), substring(datum.label,indexof(datum.label,'('))] : datum.label"}},
"y":{"field":"v","type":"quantitative","scale":{"domain":[0,50],"nice":false},"axis":{"values":[0,10,20,30,40,50],"labelOverlap":false,"title":"performance gap recovered (%)","grid":false}}}},
{"mark":{"type":"rule","color":"#555","strokeWidth":1.2,"opacity":0.8},
"encoding":{
"x":{"field":"k","type":"nominal","sort":null},
"y":{"field":"lo","type":"quantitative","axis":{"values":[0,10,20,30,40,50],"labelOverlap":false,"title":"performance gap recovered (%)","grid":false}},
"y2":{"field":"hi"}}}
]
}
]
}
],
"spacing":68,
"config":{
"font":"Roboto",
"view":{"stroke":"#555","strokeWidth":1},
"axis":{"labelFontSize":8.5,"titleFontSize":9,"labelColor":"#333","titleColor":"#333","titleFontWeight":"normal","gridColor":"#dcdcdc","tickColor":"#555","domain":false,"tickSize":3,"labelPadding":2,"titlePadding":4},
"title":{"fontSize":9,"fontWeight":"normal","color":"#333","anchor":"start","offset":-11,"dx":2,"frame":"group"},
"legend":{"direction":"vertical","gradientLength":70,"gradientThickness":7,"titleOrient":"right","labelFontSize":8.5,"titleFontSize":9,"titleFontWeight":"normal","titleColor":"#333","labelColor":"#333","gradientStrokeWidth":0}
}
}
